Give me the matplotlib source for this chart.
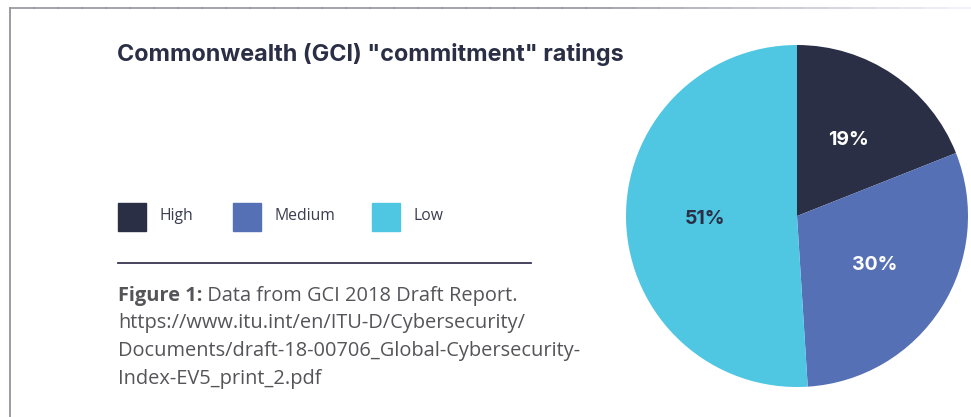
import matplotlib
matplotlib.use("Agg")
import matplotlib.pyplot as plt
from matplotlib.lines import Line2D
import numpy as np

categories = ["High", "Medium", "Low"]
values = [19, 30, 51]
colors = ["#2a2f45", "#5670b5", "#4fc6e2"]
label_colors = ["white", "white", "#2a2f45"]
title = 'Commonwealth (GCI) "commitment" ratings'
caption_bold = "Figure 1:"
caption_lines = [
    " Data from GCI 2018 Draft Report.",
    "https://www.itu.int/en/ITU-D/Cybersecurity/",
    "Documents/draft-18-00706_Global-Cybersecurity-",
    "Index-EV5_print_2.pdf",
]

W, H = 971, 417
fig = plt.figure(figsize=(W / 100, H / 100), dpi=100)
fig.patch.set_facecolor("white")
renderer = fig.canvas.get_renderer()

def fx(x):
    return x / W

def fy(y):
    return 1 - y / H

def fit(t, target_w):
    w = t.get_window_extent(renderer=renderer).width
    t.set_fontsize(t.get_fontsize() * target_w / w)

# frame lines
fig.add_artist(Line2D([fx(9.5), fx(9.5)], [fy(7.5), fy(417)], color="#8a8a94", lw=1.2))
n = 40
xs = np.linspace(9.5, 971, n + 1)
for i in range(n):
    t = i / n
    g = 0.58 + 0.38 * max(0, (t - 0.6) / 0.4)
    fig.add_artist(Line2D([fx(xs[i]), fx(xs[i + 1])], [fy(7.5), fy(7.5)],
                          color=(g, g, min(1, g + 0.03)), lw=1.2))

# title
tt = fig.text(fx(117), fy(55), title, fontsize=14.5, fontweight="bold", color="#2a2f45",
              family="Inter", va="center", ha="left")
fit(tt, 505)

# legend
legend_x = [118, 233, 372]
for x, c, lab in zip(legend_x, colors, categories):
    fig.add_artist(plt.Rectangle((fx(x), fy(231)), fx(28), 28 / H, color=c, transform=fig.transFigure))
    t = fig.text(fx(x + 41), fy(216), lab, fontsize=10.5, color="#3a3d4f", family="Open Sans",
                 va="center", ha="left")
    if lab == "Medium":
        fit(t, 61)
        leg_fs = t.get_fontsize()
for t in fig.texts[1:]:
    t.set_fontsize(leg_fs)

# separator
fig.add_artist(Line2D([fx(118), fx(531)], [fy(263), fy(263)], color="#3a3550", lw=1.3))

# caption
ys = [296, 323, 351, 379]
probe = fig.text(0, 0, caption_lines[1], fontsize=12, family="Open Sans")
fit(probe, 405)
cap_fs = probe.get_fontsize()
probe.remove()
t0 = fig.text(fx(118), fy(ys[0]), caption_bold, fontsize=cap_fs, fontweight="bold", color="#555559",
              family="Open Sans", va="center", ha="left")
bb = t0.get_window_extent(renderer=renderer)
fig.text(bb.x1 / W, fy(ys[0]), caption_lines[0], fontsize=cap_fs, color="#555559", family="Open Sans",
         va="center", ha="left")
for y, line in zip(ys[1:], caption_lines[1:]):
    fig.text(fx(118), fy(y), line, fontsize=cap_fs, color="#555559", family="Open Sans",
             va="center", ha="left")

# pie
ax = fig.add_axes([fx(626), fy(387), 342 / W, 342 / H])
wedges, texts, autotexts = ax.pie(values, colors=colors, startangle=90, counterclock=False,
                                  autopct="%d%%", pctdistance=0.54,
                                  wedgeprops=dict(linewidth=0),
                                  textprops=dict(fontsize=14, fontweight="bold", family="Inter"))
for at, c in zip(autotexts, label_colors):
    at.set_color(c)
ax.set_xlim(-1, 1)
ax.set_ylim(-1, 1)
ax.set_aspect("equal")
ax.axis("off")

fig.savefig("out.png", dpi=100, facecolor="white")
